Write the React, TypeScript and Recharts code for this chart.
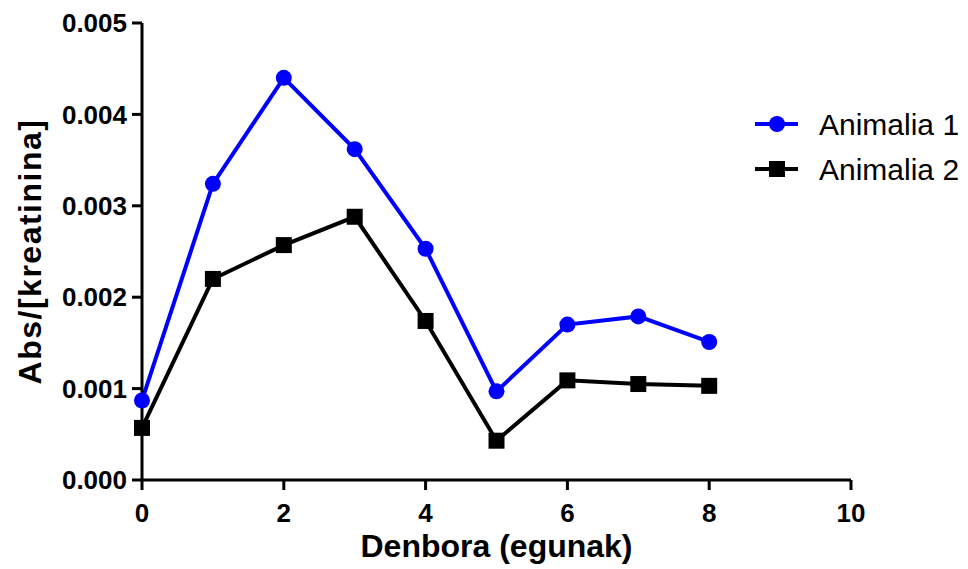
import { LineChart, Line, XAxis, YAxis } from 'recharts';

const DAYS = [0, 1, 2, 3, 4, 5, 6, 7, 8];
const ANIMALIA_1 = [0.00087, 0.00324, 0.0044, 0.00362, 0.00253, 0.00097, 0.0017, 0.00179, 0.00151];
const ANIMALIA_2 = [0.00057, 0.0022, 0.00257, 0.00288, 0.00174, 0.00043, 0.00109, 0.00105, 0.00103];
const X_TICKS = [0, 2, 4, 6, 8, 10];
const Y_TICKS = [0, 0.001, 0.002, 0.003, 0.004, 0.005];

const SERIES = [
  { key: 'a1', name: 'Animalia 1', color: '#0000ff', shape: 'circle' },
  { key: 'a2', name: 'Animalia 2', color: '#000000', shape: 'square' },
];

const FONT = '"Liberation Sans", Arial, sans-serif';

const data = DAYS.map((d, i) => ({ day: d, a1: ANIMALIA_1[i], a2: ANIMALIA_2[i] }));

function Circle(props: any) {
  const { cx, cy, fill } = props;
  if (cx == null || cy == null) return null;
  return <circle cx={cx} cy={cy} r={8} fill={fill} />;
}

function Square(props: any) {
  const { cx, cy, fill } = props;
  if (cx == null || cy == null) return null;
  return <rect x={cx - 8} y={cy - 8} width={16} height={16} fill={fill} />;
}

function YTitle(props: any) {
  const vb = props.viewBox || { x: 0, y: 23, height: 457 };
  const x = vb.x + 41;
  const y = vb.y + vb.height / 2;
  return (
    <text
      x={x}
      y={y}
      transform={`rotate(-90, ${x}, ${y})`}
      textAnchor="middle"
      fontFamily={FONT}
      fontWeight="bold"
      fontSize={32}
      letterSpacing={1.5}
      fill="#000"
    >
      Abs/[kreatinina]
    </text>
  );
}

function Legend() {
  return (
    <svg width={968} height={569} style={{ position: 'absolute', left: 0, top: 0, pointerEvents: 'none' }}>
      {SERIES.map((s, i) => {
        const y = 124 + i * 45;
        return (
          <g key={s.key}>
            <line x1={755} x2={798} y1={y} y2={y} stroke={s.color} strokeWidth={4} />
            {s.shape === 'circle' ? (
              <circle cx={777} cy={y} r={8} fill={s.color} />
            ) : (
              <rect x={769} y={y - 8} width={16} height={16} fill={s.color} />
            )}
            <text x={819} y={y + 11} fontFamily={FONT} fontSize={30} fill="#000">
              {s.name}
            </text>
          </g>
        );
      })}
    </svg>
  );
}

export default function App() {
  const tickStyle = { fontFamily: FONT, fontWeight: 'bold', fontSize: 26, fill: '#000' };
  return (
    <div style={{ position: 'absolute', left: 0, top: 0, width: 968, height: 569, background: '#fff' }}>
      <LineChart width={968} height={569} data={data} margin={{ top: 23, right: 117, bottom: 0, left: 0 }}>
        <XAxis
          dataKey="day"
          type="number"
          domain={[0, 10]}
          ticks={X_TICKS}
          height={89}
          tickSize={10}
          tickMargin={14}
          axisLine={{ stroke: '#000', strokeWidth: 3 }}
          tickLine={{ stroke: '#000', strokeWidth: 3 }}
          tick={tickStyle}
          label={{
            value: 'Denbora (egunak)',
            position: 'insideBottom',
            offset: 12,
            style: { fontFamily: FONT, fontWeight: 'bold', fontSize: 32, fill: '#000' },
          }}
        />
        <YAxis
          type="number"
          domain={[0, 0.005]}
          ticks={Y_TICKS}
          width={142}
          tickSize={10}
          tickMargin={5}
          tickFormatter={(v: number) => v.toFixed(3)}
          axisLine={{ stroke: '#000', strokeWidth: 3 }}
          tickLine={{ stroke: '#000', strokeWidth: 3 }}
          tick={tickStyle}
          label={<YTitle />}
        />
        <Line
          dataKey="a1"
          name="Animalia 1"
          stroke="#0000ff"
          strokeWidth={4}
          fill="#0000ff"
          dot={<Circle />}
          activeDot={false}
          isAnimationActive={false}
        />
        <Line
          dataKey="a2"
          name="Animalia 2"
          stroke="#000000"
          strokeWidth={4}
          fill="#000000"
          dot={<Square />}
          activeDot={false}
          isAnimationActive={false}
        />
      </LineChart>
      <Legend />
    </div>
  );
}
